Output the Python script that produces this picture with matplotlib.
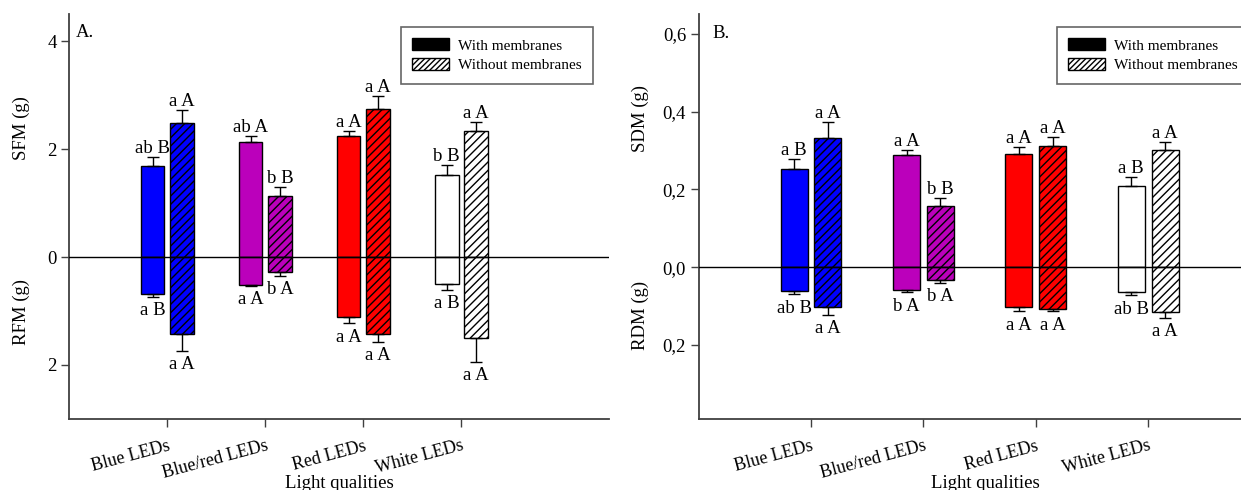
import numpy as np
import matplotlib
matplotlib.use("Agg")
import matplotlib.pyplot as plt
from matplotlib.patches import Patch

plt.rcParams['font.family'] = 'serif'
plt.rcParams['font.serif'] = ['Liberation Serif', 'DejaVu Serif']
plt.rcParams['hatch.linewidth'] = 1.0
plt.rcParams['hatch.color'] = 'black'

# ---- data ----
categories = ["Blue LEDs", "Blue/red LEDs", "Red LEDs", "White LEDs"]
bar_colors = ["#0000ff", "#bb00bb", "#ff0000", "#ffffff"]

# panel A: shoot (SFM, up) and root (RFM, down) fresh mass, g
sfm_with = [1.69, 2.14, 2.24, 1.53]
sfm_with_err = [0.16, 0.10, 0.10, 0.18]
sfm_without = [2.49, 1.13, 2.75, 2.34]
sfm_without_err = [0.24, 0.16, 0.24, 0.17]
rfm_with = [0.69, 0.52, 1.11, 0.50]
rfm_with_err = [0.05, 0.01, 0.12, 0.11]
rfm_without = [1.43, 0.27, 1.42, 1.51]
rfm_without_err = [0.31, 0.08, 0.15, 0.43]

sfm_with_lbl = ["ab B", "ab A", "a A", "b B"]
sfm_without_lbl = ["a A", "b B", "a A", "a A"]
rfm_with_lbl = ["a B", "a A", "a A", "a B"]
rfm_without_lbl = ["a A", "b A", "a A", "a A"]

# panel B: shoot (SDM) and root (RDM) dry mass, g
sdm_with = [0.252, 0.288, 0.292, 0.210]
sdm_with_err = [0.025, 0.013, 0.017, 0.021]
sdm_without = [0.332, 0.158, 0.311, 0.302]
sdm_without_err = [0.041, 0.020, 0.023, 0.020]
rdm_with = [0.062, 0.060, 0.103, 0.065]
rdm_with_err = [0.008, 0.004, 0.011, 0.008]
rdm_without = [0.103, 0.034, 0.107, 0.116]
rdm_without_err = [0.019, 0.006, 0.007, 0.014]

sdm_with_lbl = ["a B", "a A", "a A", "a B"]
sdm_without_lbl = ["a A", "b B", "a A", "a A"]
rdm_with_lbl = ["ab B", "b A", "a A", "ab B"]
rdm_without_lbl = ["a A", "b A", "a A", "a A"]

yticks_a = [-2, 0, 2, 4]
yticklabels_a = ["2", "0", "2", "4"]
yticks_b = [-0.2, 0.0, 0.2, 0.4, 0.6]
yticklabels_b = ["0,2", "0,0", "0,2", "0,4", "0,6"]

legend_labels = ["With membranes", "Without membranes"]


def draw_panel(ax, up_w, up_w_e, up_wo, up_wo_e, dn_w, dn_w_e, dn_wo, dn_wo_e,
               lbl_uw, lbl_uwo, lbl_dw, lbl_dwo):
    x = np.arange(len(categories))
    w = 0.24
    off = 0.15
    z = np.zeros(len(categories))
    ekw = dict(ecolor='black', elinewidth=1, capsize=4.5, capthick=1)

    ax.bar(x - off, up_w, w, color=bar_colors, edgecolor='black', linewidth=1,
           yerr=[z, up_w_e], error_kw=ekw, zorder=2)
    ax.bar(x + off, up_wo, w, color=bar_colors, edgecolor='black', linewidth=1,
           hatch='////', yerr=[z, up_wo_e], error_kw=ekw, zorder=2)
    ax.bar(x - off, -np.array(dn_w), w, color=bar_colors, edgecolor='black', linewidth=1,
           yerr=[dn_w_e, z], error_kw=ekw, zorder=2)
    ax.bar(x + off, -np.array(dn_wo), w, color=bar_colors, edgecolor='black', linewidth=1,
           hatch='////', yerr=[dn_wo_e, z], error_kw=ekw, zorder=2)
    ax.axhline(0, color='black', linewidth=1, zorder=3)

    for i in range(len(categories)):
        for xx, v, e, t in [(x[i] - off, up_w[i], up_w_e[i], lbl_uw[i]),
                            (x[i] + off, up_wo[i], up_wo_e[i], lbl_uwo[i])]:
            ax.annotate(t, (xx, v + e), xytext=(0, 0), textcoords='offset points',
                        ha='center', va='bottom', fontsize=13.5)
        for xx, v, e, t in [(x[i] - off, dn_w[i], dn_w_e[i], lbl_dw[i]),
                            (x[i] + off, dn_wo[i], dn_wo_e[i], lbl_dwo[i])]:
            ax.annotate(t, (xx, -(v + e)), xytext=(0, -4), textcoords='offset points',
                        ha='center', va='top', fontsize=13.5)

    ax.set_xticks(x)
    ax.set_xticklabels(categories, rotation=15, ha='right', rotation_mode='anchor', fontsize=13)
    ax.set_xlabel("Light qualities", fontsize=13.5, labelpad=-5)
    for s in ['top', 'right']:
        ax.spines[s].set_visible(False)
    for s in ['left', 'bottom']:
        ax.spines[s].set_color('#404040')
        ax.spines[s].set_linewidth(1.3)
    ax.tick_params(direction='out', length=5.5, width=1, colors='#404040', labelcolor='black',
                   labelsize=13.5)
    ax.tick_params(axis='x', pad=8, labelsize=13)


fig = plt.figure(figsize=(12.41, 4.9), dpi=100)
ax1 = fig.add_axes([69.2 / 1241, 71.3 / 490, 539.4 / 1241, 404.2 / 490])
ax2 = fig.add_axes([698.6 / 1241, 71.3 / 490, 573.2 / 1241, 404.2 / 490])

draw_panel(ax1, sfm_with, sfm_with_err, sfm_without, sfm_without_err,
           rfm_with, rfm_with_err, rfm_without, rfm_without_err,
           sfm_with_lbl, sfm_without_lbl, rfm_with_lbl, rfm_without_lbl)
ax1.set_xlim(-1, 4.5)
ax1.set_ylim(-3, 4.5)
ax1.set_yticks(yticks_a)
ax1.set_yticklabels(yticklabels_a)
ax1.text(0.012, 0.955, "A.", transform=ax1.transAxes, fontsize=13.5, ha='left', va='center')

draw_panel(ax2, sdm_with, sdm_with_err, sdm_without, sdm_without_err,
           rdm_with, rdm_with_err, rdm_without, rdm_without_err,
           sdm_with_lbl, sdm_without_lbl, rdm_with_lbl, rdm_without_lbl)
ax2.set_xlim(-1, 4.1)
ax2.set_ylim(-0.39, 0.65)
ax2.set_yticks(yticks_b)
ax2.set_yticklabels(yticklabels_b)
ax2.text(0.025, 0.953, "B.", transform=ax2.transAxes, fontsize=13.5, ha='left', va='center')

# split y labels, drawn as figure text
fig.text(21 / 1241, 1 - 128 / 490, "SFM (g)", rotation=90, ha='center', va='center', fontsize=13.5)
fig.text(21 / 1241, 1 - 312 / 490, "RFM (g)", rotation=90, ha='center', va='center', fontsize=13.5)
fig.text(640 / 1241, 1 - 118 / 490, "SDM (g)", rotation=90, ha='center', va='center', fontsize=13.5)
fig.text(640 / 1241, 1 - 315 / 490, "RDM (g)", rotation=90, ha='center', va='center', fontsize=13.5)

handles = [Patch(facecolor='black', edgecolor='black'),
           Patch(facecolor='white', edgecolor='black', hatch='//////')]
for xpos in [401 / 1241, 1057 / 1241]:
    leg = fig.legend(handles, legend_labels, loc='upper left', bbox_to_anchor=(xpos, 1 - 27 / 490),
                     bbox_transform=fig.transFigure, fontsize=11, frameon=True, fancybox=False,
                     borderpad=0.75, borderaxespad=0, handlelength=2.4, handleheight=0.8,
                     handletextpad=0.6, labelspacing=0.35)
    leg.get_frame().set_edgecolor('#404040')
    leg.get_frame().set_linewidth(1.2)

fig.savefig("out.png", dpi=100)
